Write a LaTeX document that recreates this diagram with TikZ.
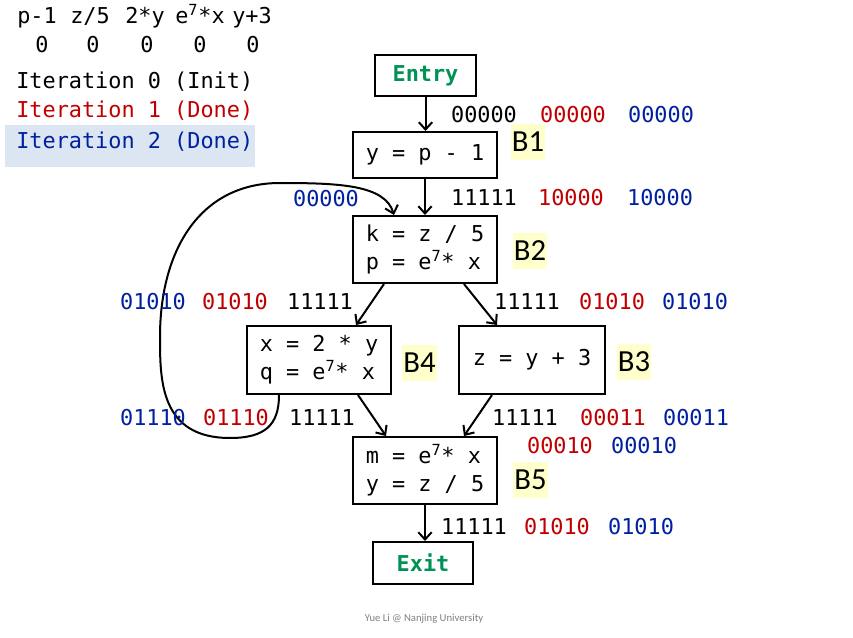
\documentclass[tikz,border=0pt]{standalone}
\usepackage{fontspec}
\setmainfont{Carlito}
\newfontfamily\codefont{DejaVu Sans Mono}
\usetikzlibrary{arrows.meta}
\definecolor{cred}{RGB}{192,0,0}
\definecolor{cblue}{RGB}{0,32,160}
\definecolor{cgreen}{RGB}{0,146,84}
\definecolor{hlyellow}{RGB}{255,255,204}
\definecolor{hlblue}{RGB}{220,230,242}
\begin{document}
\begin{tikzpicture}[x=0.75pt,y=-0.75pt,
  code/.style={font=\codefont\fontsize{16.4}{21}\selectfont, inner sep=0pt},
  hdr/.style={code, anchor=base},
  blk/.style={draw, line width=1.5pt, align=left, inner sep=0pt,
    font=\codefont\fontsize{16.4}{21}\selectfont, minimum width=108pt},
  endbox/.style={draw, line width=1.5pt, inner sep=0pt,
    font=\codefont\bfseries\fontsize{16.4}{21}\selectfont, text=cgreen},
  blabel/.style={fill=hlyellow, inner sep=0pt, minimum width=26pt,
    minimum height=27pt, font=\fontsize{23}{26}\selectfont},
  bits/.style={code},
  edge/.style={line width=1.5pt, -{Straight Barb[length=5.5pt,width=10pt,line width=1.5pt]}}
]
\useasboundingbox (0,0) rectangle (853,638);
% header
\node[hdr] (h1) at (37,24) {p-1};
\node[hdr] (h2) at (90,24) {z/5};
\node[hdr] (h3) at (145,24) {2*y};
\node[hdr] (h4) at (200,24) {e\textsuperscript{7}*x};
\node[hdr] (h5) at (252,24) {y+3};
\node[hdr] (z1) at (42,53) {0};
\node[hdr] (z2) at (93,53) {0};
\node[hdr] (z3) at (147,53) {0};
\node[hdr] (z4) at (200,53) {0};
\node[hdr] (z5) at (253,53) {0};
\fill[hlblue] (5,125) rectangle (255,167);
\node[code, anchor=west] (it0) at (16,82) {Iteration 0 (Init)};
\node[code, anchor=west, text=cred] (it1) at (16,111) {Iteration 1 (Done)};
\node[code, anchor=west, text=cblue] (it2) at (16,142) {Iteration 2 (Done)};
% blocks
\node[endbox, minimum width=75.75pt, minimum height=30.75pt] (entry) at (425.5,75.5) {Entry};
\node[blk, minimum height=34.5pt] (B1) at (425,155) {y = p - 1};
\node[blk, minimum height=50.25pt] (B2) at (425,249.5) {k = z / 5\\p = e\textsuperscript{7}* x};
\node[blk, minimum height=51pt] (B4) at (319,360) {x = 2 * y\\q = e\textsuperscript{7}* x};
\node[blk, minimum height=51pt, minimum width=109.5pt, align=center] (B3) at (532,360) {z = y + 3};
\node[blk, minimum height=50.25pt] (B5) at (425,470.5) {m = e\textsuperscript{7}* x\\y = z / 5};
\node[endbox, minimum width=75pt, minimum height=31.5pt] (exit) at (423,563) {Exit};
% block labels
\node[blabel] (lB1) at (528,142) {B1};
\node[blabel] (lB2) at (530,250.5) {B2};
\node[blabel] (lB4) at (419.5,362.5) {B4};
\node[blabel] (lB3) at (634,362) {B3};
\node[blabel] (lB5) at (530.5,479.5) {B5};
% edges
\draw[edge] (entry.south) -- (entry.south |- B1.north);
\draw[edge] (B1.south) -- (B2.north);
\draw[edge] ([xshift=24pt]B2.south west) -- ([xshift=82.5pt]B4.north west);
\draw[edge] ([xshift=84pt]B2.south west) -- ([xshift=29.25pt]B3.north west);
\draw[edge] ([xshift=84pt]B4.south west) -- ([xshift=25.5pt]B5.north west);
\draw[edge] ([xshift=25.5pt]B3.south west) -- ([xshift=84pt]B5.north west);
\draw[edge] (B5.south) -- (B5.south |- exit.north);
\draw[edge] ([xshift=24.75pt]B4.south west) .. controls (279,425) and (265,438) .. (230,438)
  .. controls (160,438) and (160,380) .. (160,337)
  .. controls (160,250) and (200,183) .. (280,183)
  .. controls (340,183) and (385,185) .. ([xshift=31.5pt]B2.north west);
% bit vectors
\node[bits] (a1) at (484,115) {00000};
\node[bits, text=cred] (a2) at (573,115) {00000};
\node[bits, text=cblue] (a3) at (661,115) {00000};
\node[bits] (b1) at (484,198) {11111};
\node[bits, text=cred] (b2) at (571,198) {10000};
\node[bits, text=cblue] (b3) at (660,198) {10000};
\node[bits, text=cblue] (c0) at (326,199) {00000};
\node[bits, text=cblue] (d1) at (153,302) {01010};
\node[bits, text=cred] (d2) at (235,302) {01010};
\node[bits] (d3) at (320,302) {11111};
\node[bits] (e1) at (527,302) {11111};
\node[bits, text=cred] (e2) at (612,302) {01010};
\node[bits, text=cblue] (e3) at (695,302) {01010};
\node[bits, text=cblue] (f1) at (153,418) {01110};
\node[bits, text=cred] (f2) at (236,418) {01110};
\node[bits] (f3) at (322,418) {11111};
\node[bits] (g1) at (525,418) {11111};
\node[bits, text=cred] (g2) at (613,418) {00011};
\node[bits, text=cblue] (g3) at (696,418) {00011};
\node[bits, text=cred] (k2) at (560,446) {00010};
\node[bits, text=cblue] (k3) at (644,446) {00010};
\node[bits] (m1) at (474,527) {11111};
\node[bits, text=cred] (m2) at (557,527) {01010};
\node[bits, text=cblue] (m3) at (641,527) {01010};
% footer
\node[font=\fontsize{8}{9}\selectfont, text=gray] (foot) at (424,619) {Yue Li @ Nanjing University};
\end{tikzpicture}
\end{document}
